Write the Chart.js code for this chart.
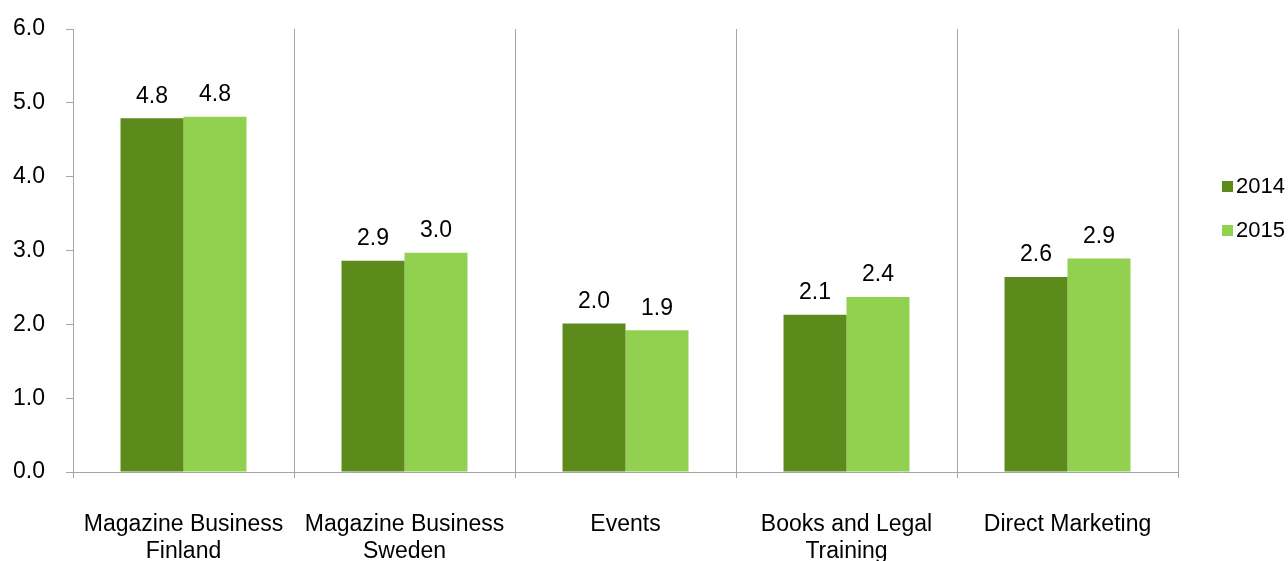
<!DOCTYPE html>
<html>
<head>
<meta charset="utf-8">
<script src="https://cdn.jsdelivr.net/npm/chart.js@4.4.0/dist/chart.umd.min.js"></script>
<style>
  html, body { margin: 0; padding: 0; background: #fff; }
  #wrap { width: 1288px; height: 561px; }
</style>
</head>
<body>
<div id="wrap"><canvas id="myChart"></canvas></div>
<script>
// chart data
const categories = [
  ['Magazine Business', 'Finland'],
  ['Magazine Business', 'Sweden'],
  'Events',
  ['Books and Legal', 'Training'],
  'Direct Marketing'
];
const values2014 = [4.79, 2.86, 2.01, 2.13, 2.64];
const values2015 = [4.81, 2.97, 1.92, 2.37, 2.89];
const seriesNames = ['2014', '2015'];
const yTicks = [0, 1, 2, 3, 4, 5, 6];

const FONT = '"Liberation Sans", Arial, sans-serif';

// labels above each bar
const valueLabels = {
  id: 'valueLabels',
  afterDatasetsDraw(chart) {
    const ctx = chart.ctx;
    ctx.save();
    ctx.font = '23px ' + FONT;
    ctx.fillStyle = '#000';
    ctx.textAlign = 'center';
    ctx.textBaseline = 'middle';
    chart.data.datasets.forEach((ds, i) => {
      chart.getDatasetMeta(i).data.forEach((bar, j) => {
        ctx.fillText(ds.data[j].toFixed(1), bar.x, bar.y - 22);
      });
    });
    ctx.restore();
  }
};

// legend on the right
const sideLegend = {
  id: 'sideLegend',
  afterDraw(chart) {
    const ctx = chart.ctx;
    ctx.save();
    ctx.font = '22px ' + FONT;
    ctx.textBaseline = 'middle';
    chart.data.datasets.forEach((ds, i) => {
      const y = 186 + i * 44;
      ctx.fillStyle = ds.backgroundColor;
      ctx.fillRect(1222, y - 5, 11, 11);
      ctx.fillStyle = '#000';
      ctx.fillText(ds.label, 1236, y + 1);
    });
    ctx.restore();
  }
};

const ctx = document.getElementById('myChart').getContext('2d');
new Chart(ctx, {
  type: 'bar',
  data: {
    labels: categories,
    datasets: [
      { label: seriesNames[0], data: values2014, backgroundColor: '#5c8b1c' },
      { label: seriesNames[1], data: values2015, backgroundColor: '#92d050' }
    ]
  },
  options: {
    responsive: true,
    maintainAspectRatio: false,
    animation: false,
    layout: { padding: { top: 29, right: 110, left: 0, bottom: 0 } },
    plugins: {
      legend: { display: false },
      tooltip: { enabled: false }
    },
    datasets: {
      bar: { categoryPercentage: 0.57, barPercentage: 1.0 }
    },
    scales: {
      x: {
        offset: true,
        grid: {
          offset: true,
          color: '#a6a6a6',
          lineWidth: 1,
          drawOnChartArea: true,
          drawTicks: true,
          tickLength: 6
        },
        border: { color: '#a6a6a6' },
        ticks: {
          color: '#000',
          font: { family: FONT, size: 23, lineHeight: 1.17 },
          padding: 33,
          maxRotation: 0,
          autoSkip: false
        },
        afterFit(scale) { scale.height = 89; }
      },
      y: {
        min: 0,
        max: 6,
        afterBuildTicks(scale) { scale.ticks = yTicks.map(v => ({ value: v })); },
        grid: {
          drawOnChartArea: false,
          drawTicks: true,
          tickLength: 7,
          color: '#a6a6a6'
        },
        border: { color: '#a6a6a6' },
        ticks: {
          color: '#000',
          font: { family: FONT, size: 23, lineHeight: 0.5 },
          padding: 21,
          callback: v => v.toFixed(1)
        },
        afterFit(scale) { scale.width = 73; }
      }
    }
  },
  plugins: [valueLabels, sideLegend]
});
</script>
</body>
</html>
